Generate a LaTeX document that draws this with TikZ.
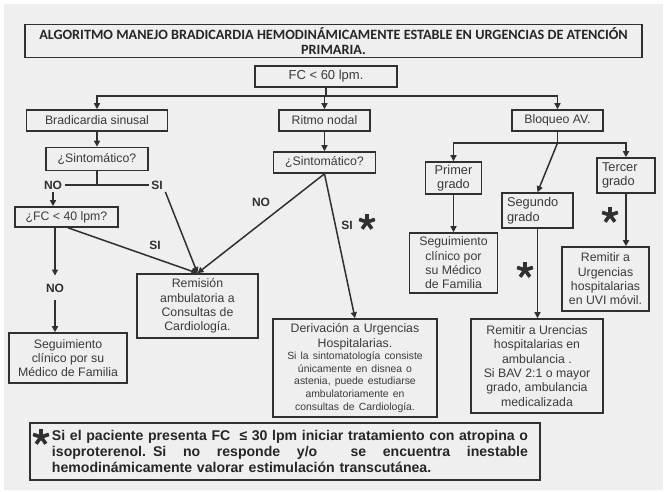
\documentclass[tikz,border=0pt]{standalone}
\usepackage{fontspec}
\setmainfont{Liberation Sans}
\newfontfamily\carlito{Carlito}
\usetikzlibrary{arrows.meta}
\definecolor{bg}{RGB}{239,239,239}
\definecolor{ink}{RGB}{48,48,48}
\definecolor{txt}{RGB}{58,58,58}
\newcommand{\jline}[1]{\leavevmode\hbox to 476pt{\spaceskip=0.28em plus 1fil\relax #1}}
\tikzset{
 box/.style={draw=ink, line width=1.6pt, fill=bg, inner sep=0pt, align=center, text=txt, font=\fontsize{12.3}{14.3}\selectfont},
 lbl/.style={inner sep=2.5pt, text=ink, font=\bfseries\fontsize{12}{14}\selectfont},
 conn/.style={draw=ink, line width=1.5pt},
 arr/.style={conn, -{Triangle[length=6pt,width=6pt]}},
 ast/.pic={\foreach \a in {270,342,198,54,126} \draw[ink, line width=3.6pt] (0,0) -- (\a:8.3);}
}
\begin{document}
\begin{tikzpicture}[x=1pt,y=-1pt]
\useasboundingbox (0,0) rectangle (665,492);
\fill[white] (0,0) rectangle (665,492);
\fill[bg] (4,4) rectangle (663,490);

% title
\node[box, minimum width=617pt, minimum height=33pt, text=black!85, font=\carlito\bfseries\fontsize{14.2}{15.8}\selectfont] (title) at (333.5,41)
 {ALGORITMO MANEJO BRADICARDIA HEMODINÁMICAMENTE ESTABLE EN URGENCIAS DE ATENCIÓN\\PRIMARIA.};

\node[box, minimum width=142pt, minimum height=21pt, font=\fontsize{13}{15}\selectfont] (fc) at (326,76.5) {FC < 60 lpm.};

\node[box, minimum width=141pt, minimum height=21pt] (bs) at (97,120.5) {Bradicardia sinusal};
\node[box, minimum width=91pt, minimum height=21pt] (rn) at (324.5,120.5) {Ritmo nodal};
\node[box, minimum width=91pt, minimum height=21pt] (bav) at (557.5,120.5) {Bloqueo AV.};

\node[box, minimum width=102pt, minimum height=23pt] (sint1) at (97,159) {¿Sintomático?};
\node[box, minimum width=103pt, minimum height=20pt] (fc40) at (66.5,217) {¿FC < 40 lpm?};
\node[box, minimum width=121pt, minimum height=64pt] (rem) at (197.5,306) {Remisión\\ambulatoria a\\Consultas de\\Cardiología.};
\node[box, minimum width=118pt, minimum height=50pt] (seg1) at (68,358) {Seguimiento\\clínico por su\\Médico de Familia};

\node[box, minimum width=102pt, minimum height=21pt] (sint2) at (324.5,162.5) {¿Sintomático?};
\node[box, minimum width=164pt, minimum height=98pt, text width=160pt] (der) at (355,368)
 {\centering Derivación a Urgencias\\Hospitalarias.\par
  {\fontsize{10.4}{12.6}\selectfont Si la sintomatología consiste\\únicamente en disnea o\\astenia, puede estudiarse\\ambulatoriamente en\\consultas de Cardiología.\par}};

\node[box, minimum width=56pt, minimum height=32pt, font=\fontsize{12.8}{14.5}\selectfont] (primer) at (453.5,178) {Primer\\grado};
\node[box, minimum width=71pt, minimum height=35pt, text width=61pt, align=left, font=\fontsize{12.8}{14.8}\selectfont] (segundo) at (537.5,210.5) {Segundo\\grado};
\node[box, minimum width=58pt, minimum height=35pt, text width=48pt, align=left, font=\fontsize{12.8}{14.8}\selectfont] (tercer) at (626,175.5) {Tercer\\grado};
\node[box, minimum width=88pt, minimum height=60pt] (seg2) at (453.5,263) {Seguimiento\\clínico por\\su Médico\\de Familia};
\node[box, minimum width=87pt, minimum height=64pt] (uvi) at (605.5,279) {Remitir a\\Urgencias\\hospitalarias\\en UVI móvil.};
\node[box, minimum width=132pt, minimum height=94pt] (remu) at (537,366) {Remitir a Urencias\\hospitalarias en\\ambulancia .\\Si BAV 2:1 o mayor\\grado, ambulancia\\medicalizada};

% footer
\node[box, minimum width=510pt, minimum height=57pt] (foot) at (285,451.5) {};
\node[inner sep=0pt, text width=476pt, align=left, text=black!85, font=\bfseries\fontsize{14.1}{16.3}\selectfont] (foottext) at (290,451.5)
 {\jline{Si el paciente presenta FC\ \ ≤ 30 lpm iniciar tratamiento con atropina o}\par
  \jline{isoproterenol. Si no responde y/o\ \ se encuentra inestable}\par
  hemodinámicamente valorar estimulación transcutánea.};
\pic at (41,437) {ast};

% labels
\node[lbl] (no1) at (53,185) {NO};
\node[lbl] (si1) at (157,185) {SI};
\node[lbl, inner ysep=8pt] (no2) at (55,288) {NO};
\node[lbl] (si2) at (155,245) {SI};
\node[lbl] (no3) at (261,202) {NO};
\node[lbl] (si3) at (347,225) {SI};
\pic at (367,222) {ast};
\pic at (525,270) {ast};
\pic at (610,215) {ast};

% connectors
\coordinate (j1) at (326,96);
\draw[conn] (fc.south) -- (j1);
\draw[arr] (j1) -| (bs.north);
\draw[arr] (j1) -| (rn.north);
\draw[arr] (j1) -| (bav.north);

\draw[arr] (bs.south) -- (sint1.north);
\draw[conn] (sint1.south) -- (sint1.south |- no1);
\draw[conn] (no1.east) -- (si1.west);
\draw[arr] (no1.south) -- (no1.south |- fc40.north);
\draw[arr] (no2 |- fc40.south) -- (no2.north);
\draw[arr] (no2.south) -- (no2 |- seg1.north);
\draw[arr] ([xshift=1.5pt]fc40.south) -- (rem.north);
\draw[arr] (si1.south east) -- (rem.north);

\draw[arr] (rn.south) -- (sint2.north);
\draw[arr] (sint2.south) -- (rem.north);
\draw[arr] (sint2.south) -- (der.north);

\coordinate (j3) at (557.5,143);
\draw[conn] (bav.south) -- (j3);
\draw[arr] (j3) -| (primer.north);
\draw[arr] (j3) -| (tercer.north);
\draw[arr] (j3) -- (segundo.north);
\draw[arr] (primer.south) -- (seg2.north);
\draw[arr] (segundo.south) -- (segundo.south |- remu.north);
\draw[arr] (tercer.south) -- (tercer.south |- uvi.north);
\end{tikzpicture}
\end{document}
